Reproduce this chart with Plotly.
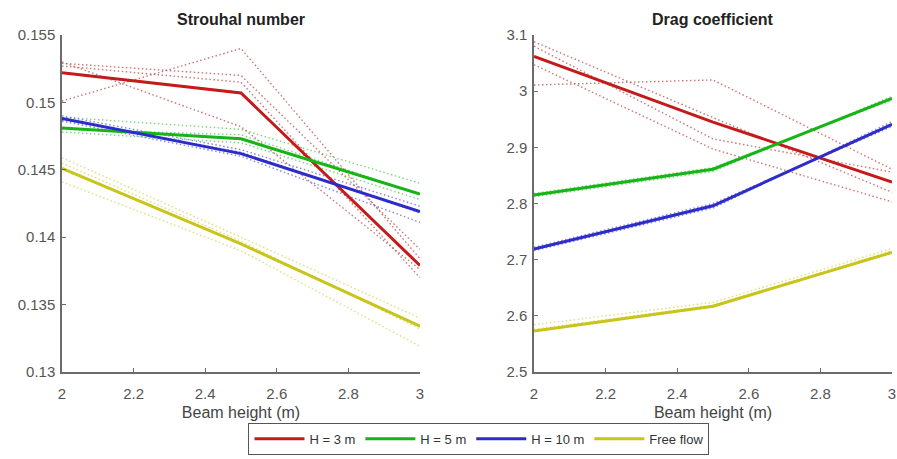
import plotly.graph_objects as go

beam_height = [2.0, 2.5, 3.0]
series_names = ["H = 3 m", "H = 5 m", "H = 10 m", "Free flow"]

# Strouhal number (mean lines)
st_h3 = [0.1522, 0.1507, 0.1379]
st_h5 = [0.1481, 0.1473, 0.1432]
st_h10 = [0.1488, 0.1462, 0.1419]
st_free = [0.1451, 0.1395, 0.1334]

# Strouhal number (individual runs, dotted)
st_h3_runs = [[0.1501, 0.1540, 0.1384], [0.1529, 0.1520, 0.1391],
              [0.1527, 0.1515, 0.1370], [0.1530, 0.1482, 0.1376]]
st_h5_runs = [[0.1489, 0.1480, 0.1440], [0.1480, 0.1476, 0.1432],
              [0.1478, 0.1470, 0.1428]]
st_h10_runs = [[0.1490, 0.1465, 0.1423], [0.1486, 0.1460, 0.1411],
               [0.1487, 0.1463, 0.1418]]
st_free_runs = [[0.1459, 0.1400, 0.1340], [0.1441, 0.1390, 0.1319],
                [0.1455, 0.1397, 0.1332]]

# Drag coefficient (mean lines)
cd_h3 = [3.062, 2.945, 2.838]
cd_h5 = [2.815, 2.861, 2.987]
cd_h10 = [2.719, 2.796, 2.941]
cd_free = [2.573, 2.617, 2.713]

# Drag coefficient (individual runs, dotted)
cd_h3_runs = [[3.011, 3.020, 2.861], [3.088, 2.953, 2.820],
              [3.080, 2.915, 2.856], [3.047, 2.897, 2.803]]
cd_h5_runs = [[2.812, 2.857, 2.991], [2.818, 2.864, 2.984]]
cd_h10_runs = [[2.716, 2.792, 2.946], [2.722, 2.800, 2.937]]
cd_free_runs = [[2.584, 2.624, 2.720], [2.576, 2.619, 2.716]]

st_yticks = [0.13, 0.135, 0.14, 0.145, 0.15, 0.155]
st_ytext = ["0.13", "0.135", "0.14", "0.145", "0.15", "0.155"]
cd_yticks = [2.5, 2.6, 2.7, 2.8, 2.9, 3.0, 3.1]
cd_ytext = ["2.5", "2.6", "2.7", "2.8", "2.9", "3", "3.1"]
xticks = [2, 2.2, 2.4, 2.6, 2.8, 3]
xtext = ["2", "2.2", "2.4", "2.6", "2.8", "3"]

colors = ["#c41a1a", "#16b416", "#2c2cc8", "#c8c41a"]
dot_colors = ["rgba(190,70,70,0.75)", "rgba(60,190,60,0.65)",
              "rgba(70,70,210,0.65)", "rgba(205,205,60,0.65)"]

fig = go.Figure()

st_means = [st_h3, st_h5, st_h10, st_free]
st_runs = [st_h3_runs, st_h5_runs, st_h10_runs, st_free_runs]
cd_means = [cd_h3, cd_h5, cd_h10, cd_free]
cd_runs = [cd_h3_runs, cd_h5_runs, cd_h10_runs, cd_free_runs]

for i in range(4):
    for run in st_runs[i]:
        fig.add_trace(go.Scatter(x=beam_height, y=run, mode="lines",
                                 line=dict(color=dot_colors[i], width=1.4, dash="1.5px,2.5px"),
                                 showlegend=False, hoverinfo="skip",
                                 xaxis="x", yaxis="y"))
    for run in cd_runs[i]:
        fig.add_trace(go.Scatter(x=beam_height, y=run, mode="lines",
                                 line=dict(color=dot_colors[i], width=1.4, dash="1.5px,2.5px"),
                                 showlegend=False, hoverinfo="skip",
                                 xaxis="x2", yaxis="y2"))

for i in range(4):
    fig.add_trace(go.Scatter(x=beam_height, y=st_means[i], mode="lines",
                             line=dict(color=colors[i], width=3),
                             name=series_names[i], xaxis="x", yaxis="y"))
    fig.add_trace(go.Scatter(x=beam_height, y=cd_means[i], mode="lines",
                             line=dict(color=colors[i], width=3),
                             showlegend=False, xaxis="x2", yaxis="y2"))

axis_common = dict(showline=True, linecolor="#6b6b6b", linewidth=1.5,
                   ticks="inside", ticklen=4, tickcolor="#6b6b6b",
                   showgrid=False, zeroline=False, automargin=False,
                   tickfont=dict(size=15, color="#555555"))

xtitle = dict(text="Beam height (m)", font=dict(size=16, color="#444444"), standoff=6)

fig.update_layout(
    width=897, height=459,
    margin=dict(l=62, r=5, t=35, b=86),
    paper_bgcolor="white", plot_bgcolor="white",
    font=dict(family="Liberation Sans, Arial, sans-serif", color="#333333"),
    xaxis=dict(domain=[0, 0.4313], range=[2, 3], tickvals=xticks, ticktext=xtext,
               title=xtitle, anchor="y", ticklabelstandoff=7, **axis_common),
    yaxis=dict(domain=[0, 1], range=[0.13, 0.155], tickvals=st_yticks, ticktext=st_ytext,
               anchor="x", ticklabelstandoff=2, **axis_common),
    xaxis2=dict(domain=[0.5687, 1], range=[2, 3], tickvals=xticks, ticktext=xtext,
                title=xtitle, anchor="y2", ticklabelstandoff=7, **axis_common),
    yaxis2=dict(domain=[0, 1], range=[2.5, 3.1], tickvals=cd_yticks, ticktext=cd_ytext,
                anchor="x2", ticklabelstandoff=2, **axis_common),
    legend=dict(orientation="h", x=0.5024, xanchor="center", y=-0.242, yanchor="bottom",
                bordercolor="#555555", borderwidth=1, bgcolor="white",
                font=dict(size=13, color="#333333"), itemwidth=50,
                tracegroupgap=0),
    annotations=[
        dict(text="<b>Strouhal number</b>", x=0.2156, y=1.0, xref="paper", yref="paper",
             xanchor="center", yanchor="bottom", yshift=5, showarrow=False,
             font=dict(size=16, color="#222222")),
        dict(text="<b>Drag coefficient</b>", x=0.7843, y=1.0, xref="paper", yref="paper",
             xanchor="center", yanchor="bottom", yshift=5, showarrow=False,
             font=dict(size=16, color="#222222")),
    ],
)

fig.write_html("out.html")
